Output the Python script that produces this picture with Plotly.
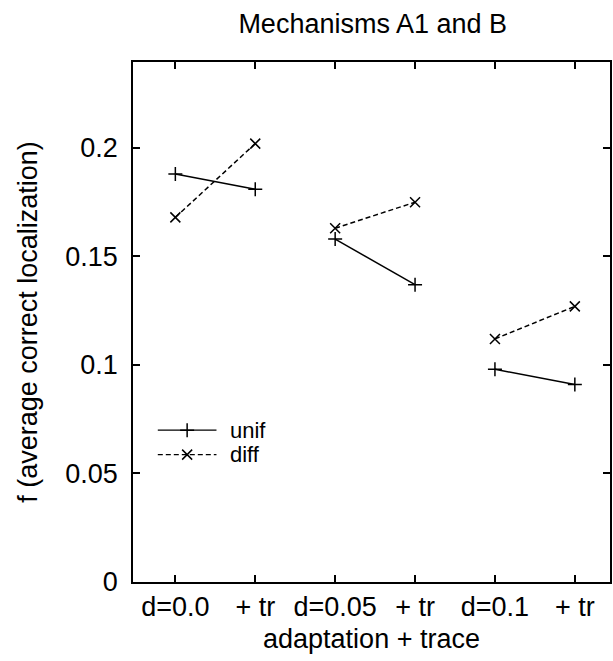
import plotly.graph_objects as go

# x-axis conditions (adaptation level, then with trace)
categories = ["d=0.0", "+ tr", "d=0.05", "+ tr", "d=0.1", "+ tr"]
# average correct localization for each condition
unif = [0.188, 0.181, 0.158, 0.137, 0.098, 0.091]
diff = [0.168, 0.202, 0.163, 0.175, 0.112, 0.127]
y_ticks = [0, 0.05, 0.1, 0.15, 0.2]
y_tick_text = ["0", "0.05", "0.1", "0.15", "0.2"]

FONT = "Liberation Sans, Arial, Helvetica, sans-serif"
SIZE = 27


def paired(values):
    """Split a series into (adaptation, +trace) segments separated by gaps."""
    xs, ys = [], []
    for i in range(0, len(values), 2):
        xs += [i, i + 1, None]
        ys += [values[i], values[i + 1], None]
    return xs[:-1], ys[:-1]


fig = go.Figure()

ux, uy = paired(unif)
dx, dy = paired(diff)
fig.add_trace(go.Scatter(
    x=ux, y=uy, mode="lines+markers", name="unif",
    line=dict(color="black", width=1.5),
    marker=dict(symbol="cross-thin", size=10, line=dict(color="black", width=1.5)),
    connectgaps=False,
))
fig.add_trace(go.Scatter(
    x=dx, y=dy, mode="lines+markers", name="diff",
    line=dict(color="black", width=1.5, dash="5px,3px"),
    marker=dict(symbol="x-thin", size=10, line=dict(color="black", width=1.5)),
    connectgaps=False,
))

# legend samples drawn on an overlay axis in plot-fraction units
legend_rows = [("unif", 0.292, "solid", "cross-thin"), ("diff", 0.245, "5px,3px", "x-thin")]
for label, ypos, dash, sym in legend_rows:
    fig.add_trace(go.Scatter(
        x=[0.052, 0.175], y=[ypos, ypos], mode="lines", xaxis="x2", yaxis="y2",
        line=dict(color="black", width=1.2, dash=dash), showlegend=False, hoverinfo="skip",
    ))
    fig.add_trace(go.Scatter(
        x=[0.1135], y=[ypos], mode="markers", xaxis="x2", yaxis="y2",
        marker=dict(symbol=sym, size=10, line=dict(color="black", width=1.5)),
        showlegend=False, hoverinfo="skip",
    ))
    fig.add_annotation(
        x=0.2, y=ypos, xref="x2", yref="y2", text=label, showarrow=False,
        xanchor="left", yanchor="middle", font=dict(family=FONT, size=22, color="black"),
    )

axis_common = dict(
    showline=True, linecolor="black", linewidth=1.5, mirror="allticks",
    ticks="inside", ticklen=7, tickwidth=1.5, tickcolor="black",
    showgrid=False, zeroline=False,
    tickfont=dict(family=FONT, size=SIZE, color="black"),
)

fig.update_layout(
    width=613, height=661,
    margin=dict(l=133, r=1, t=62, b=79),
    paper_bgcolor="white", plot_bgcolor="white",
    showlegend=False,
    title=dict(
        text="Mechanisms A1 and B", x=0.608, xanchor="center", y=0.965, yanchor="middle",
        font=dict(family=FONT, size=SIZE, color="black"),
    ),
    xaxis=dict(
        range=[-0.53, 5.44], tickvals=list(range(len(categories))), ticktext=categories,
        title=dict(text="adaptation + trace", font=dict(family=FONT, size=SIZE, color="black"), standoff=8),
        ticklabelstandoff=0,
        **axis_common,
    ),
    yaxis=dict(
        range=[0, 0.2396], tickvals=y_ticks, ticktext=y_tick_text,
        title=dict(text="f (average correct localization)", font=dict(family=FONT, size=SIZE, color="black"), standoff=20),
        ticklabelstandoff=8,
        **axis_common,
    ),
    xaxis2=dict(overlaying="x", range=[0, 1], visible=False, fixedrange=True),
    yaxis2=dict(overlaying="y", range=[0, 1], visible=False, fixedrange=True),
)

fig.write_html("out.html")
